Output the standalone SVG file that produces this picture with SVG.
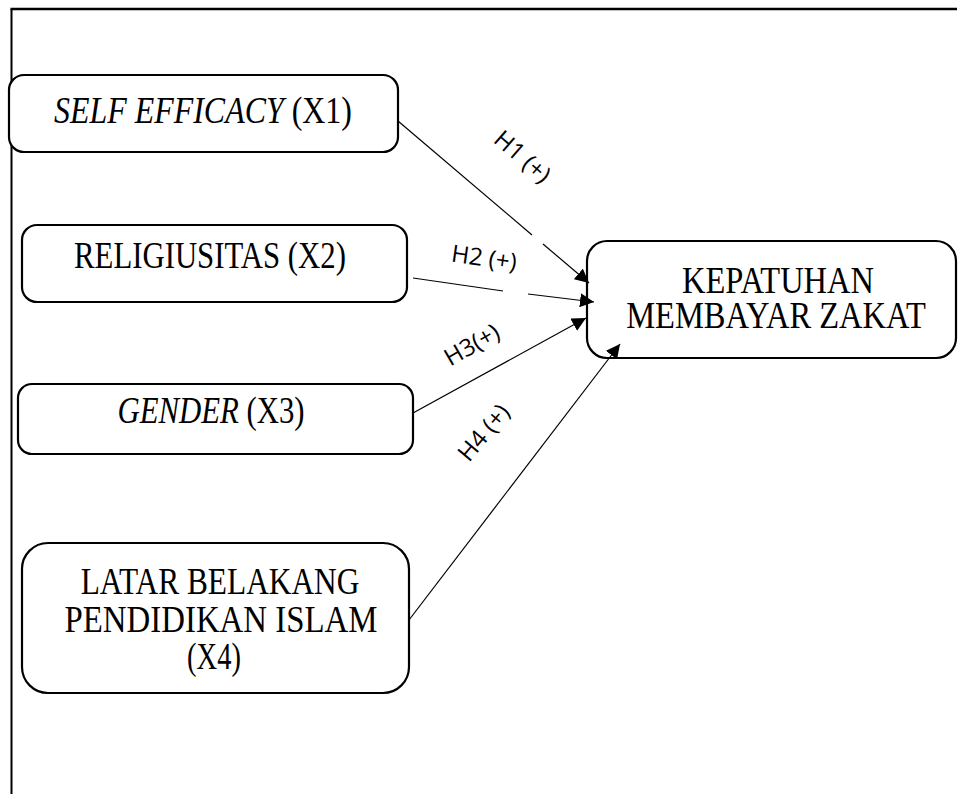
<svg xmlns="http://www.w3.org/2000/svg" width="958" height="794" viewBox="0 0 958 794">
<style>
.box{fill:#fff;stroke:#000;stroke-width:2.2}
.t{font-family:"Liberation Serif","Times New Roman",serif;font-size:38px;fill:#000;text-anchor:middle}
.i{font-style:italic}
.c{stroke:#000;stroke-width:1.2;fill:none}
.lbl{font-family:"Open Sans","Liberation Sans",sans-serif;font-size:24px;fill:#000;text-anchor:middle}
</style>
<defs>
<marker id="ah" viewBox="0 0 10 10" refX="10" refY="5" markerWidth="14" markerHeight="14" markerUnits="userSpaceOnUse" orient="auto">
<path d="M0,0 L10,5 L0,10 z" fill="#000"/>
</marker>
</defs>
<rect width="958" height="794" fill="#fff"/>
<g id="frame">
<line x1="11.5" y1="9" x2="11.5" y2="794" stroke="#000" stroke-width="2"/>
<line x1="10.5" y1="9" x2="957" y2="9" stroke="#000" stroke-width="2.4"/>
</g>
<g id="x1">
<rect class="box" x="9" y="75" width="389" height="77" rx="15"/>
<g transform="translate(203,0) scale(0.84,1)"><text class="t" x="0" y="123"><tspan class="i">SELF EFFICACY</tspan> (X1)</text></g>
</g>
<g id="x2">
<rect class="box" x="22" y="225" width="385" height="77" rx="15"/>
<g transform="translate(210,0) scale(0.81,1)"><text class="t" x="0" y="268">RELIGIUSITAS (X2)</text></g>
</g>
<g id="x3">
<rect class="box" x="18" y="384" width="395" height="70" rx="14"/>
<g transform="translate(211,0) scale(0.81,1)"><text class="t" x="0" y="423"><tspan class="i">GENDER</tspan> (X3)</text></g>
</g>
<g id="x4">
<rect class="box" x="22" y="543" width="387" height="150" rx="26"/>
<g transform="translate(220,0) scale(0.825,1)"><text class="t" x="0" y="594">LATAR BELAKANG</text></g>
<g transform="translate(221,0) scale(0.865,1)"><text class="t" x="0" y="632">PENDIDIKAN ISLAM</text></g>
<g transform="translate(214,0) scale(0.75,1)"><text class="t" x="0" y="669">(X4)</text></g>
</g>
<g id="y">
<rect class="box" x="587" y="241" width="369" height="117" rx="20"/>
<g transform="translate(778,0) scale(0.855,1)"><text class="t" x="0" y="293">KEPATUHAN</text></g>
<g transform="translate(776,0) scale(0.856,1)"><text class="t" x="0" y="328">MEMBAYAR ZAKAT</text></g>
</g>
<g id="connectors">
<line class="c" x1="398" y1="121" x2="532" y2="235"/>
<line class="c" x1="543" y1="244" x2="589" y2="283" marker-end="url(#ah)"/>
<line class="c" x1="413" y1="278" x2="503" y2="291"/>
<line class="c" x1="528" y1="294" x2="594" y2="302" marker-end="url(#ah)"/>
<line class="c" x1="413" y1="413" x2="586" y2="318" marker-end="url(#ah)"/>
<line class="c" x1="409" y1="620" x2="620" y2="344" marker-end="url(#ah)"/>
</g>
<g id="labels">
<text class="lbl" transform="translate(517,163) rotate(41)">H1 (+)</text>
<text class="lbl" transform="translate(483,266) rotate(8)">H2 (+)</text>
<text class="lbl" transform="translate(476,352) rotate(-30)">H3(+)</text>
<text class="lbl" transform="translate(490,438) rotate(-50)">H4 (+)</text>
</g>
</svg>
